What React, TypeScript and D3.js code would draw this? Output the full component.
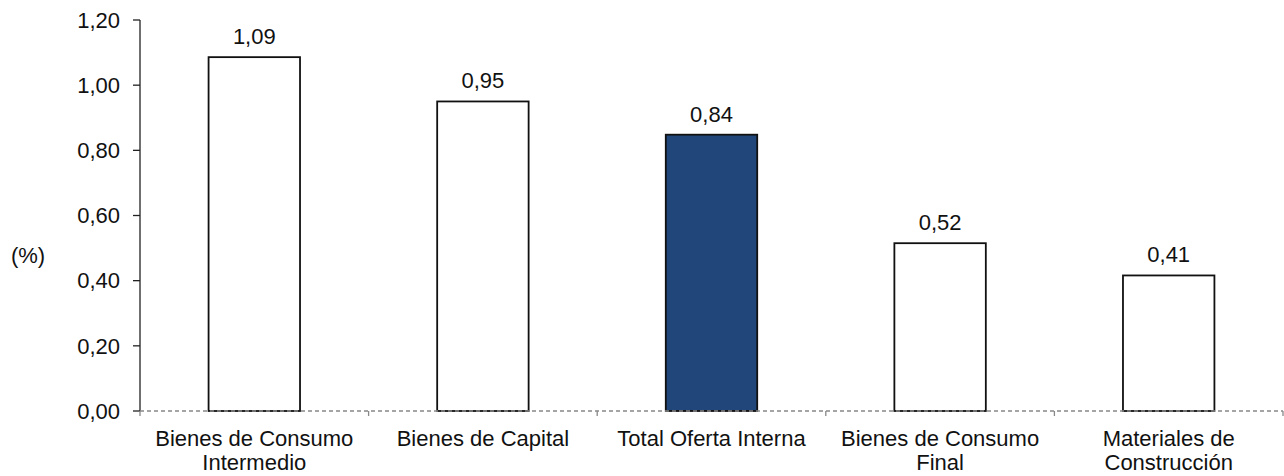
import { useEffect, useRef } from "react";
import * as d3 from "d3";

const categories = [
	["Bienes de Consumo", "Intermedio"],
	["Bienes de Capital"],
	["Total Oferta Interna"],
	["Bienes de Consumo", "Final"],
	["Materiales de", "Construcción"],
];
const values = [1.086, 0.95, 0.848, 0.515, 0.416];
const valueLabels = ["1,09", "0,95", "0,84", "0,52", "0,41"];
const highlighted = [false, false, true, false, false];
const yTicks = [0, 0.2, 0.4, 0.6, 0.8, 1.0, 1.2];

export default function App() {
	const svgRef = useRef<SVGSVGElement>(null);

	useEffect(() => {
		if (!svgRef.current) return;
		const width = 1284;
		const height = 476;
		const left = 140;
		const right = 1283;
		const top = 20;
		const bottom = 411;
		const font = "Liberation Sans, Arial, sans-serif";
		const fontSize = 22;

		const svg = d3.select(svgRef.current);
		svg.selectAll("*").remove();
		svg.attr("width", width).attr("height", height);

		const x = d3
			.scaleBand<number>()
			.domain(d3.range(categories.length))
			.range([left, right])
			.paddingInner(0.6)
			.paddingOuter(0.3);
		const y = d3.scaleLinear().domain([0, 1.2]).range([bottom, top]);

		// y axis
		svg
			.append("line")
			.attr("x1", left)
			.attr("x2", left)
			.attr("y1", y(1.2))
			.attr("y2", bottom)
			.attr("stroke", "#222")
			.attr("stroke-width", 1.3);
		const yt = svg.append("g").selectAll("g").data(yTicks).join("g");
		yt.append("line")
			.attr("x1", left - 7)
			.attr("x2", left)
			.attr("y1", (d) => y(d))
			.attr("y2", (d) => y(d))
			.attr("stroke", "#222")
			.attr("stroke-width", 1.3);
		yt.append("text")
			.attr("x", left - 20)
			.attr("y", (d) => y(d))
			.attr("dy", "0.35em")
			.attr("text-anchor", "end")
			.attr("font-family", font)
			.attr("font-size", fontSize)
			.attr("fill", "#111")
			.text((d) => d3.format(".2f")(d).replace(".", ","));

		svg
			.append("text")
			.attr("x", 28)
			.attr("y", 263)
			.attr("text-anchor", "middle")
			.attr("font-family", font)
			.attr("font-size", fontSize)
			.attr("fill", "#111")
			.text("(%)");

		// bars
		svg
			.append("g")
			.selectAll("rect")
			.data(values)
			.join("rect")
			.attr("x", (_, i) => x(i)!)
			.attr("y", (d) => y(d))
			.attr("width", x.bandwidth())
			.attr("height", (d) => bottom - y(d))
			.attr("fill", (_, i) => (highlighted[i] ? "#21477a" : "#fff"))
			.attr("stroke", "#111")
			.attr("stroke-width", 1.8);

		svg
			.append("g")
			.selectAll("text")
			.data(values)
			.join("text")
			.attr("x", (_, i) => x(i)! + x.bandwidth() / 2)
			.attr("y", (d) => y(d) - 13)
			.attr("text-anchor", "middle")
			.attr("font-family", font)
			.attr("font-size", fontSize)
			.attr("fill", "#111")
			.text((_, i) => valueLabels[i]);

		// x axis (dashed baseline)
		svg
			.append("line")
			.attr("x1", left)
			.attr("x2", right)
			.attr("y1", bottom)
			.attr("y2", bottom)
			.attr("stroke", "#888")
			.attr("stroke-width", 1.3)
			.attr("stroke-dasharray", "4,3");
		svg
			.append("g")
			.selectAll("line")
			.data(d3.range(categories.length + 1))
			.join("line")
			.attr("x1", (i) => left + (i * (right - left)) / categories.length)
			.attr("x2", (i) => left + (i * (right - left)) / categories.length)
			.attr("y1", bottom)
			.attr("y2", bottom + 5)
			.attr("stroke", "#888")
			.attr("stroke-width", 1.3);

		const labels = svg
			.append("g")
			.selectAll("text")
			.data(categories)
			.join("text")
			.attr("x", (_, i) => x(i)! + x.bandwidth() / 2)
			.attr("y", bottom + 35)
			.attr("text-anchor", "middle")
			.attr("font-family", font)
			.attr("font-size", fontSize)
			.attr("fill", "#111");
		labels
			.selectAll("tspan")
			.data((d) => d)
			.join("tspan")
			.attr("x", function () {
				return (this as any).parentNode.getAttribute("x");
			})
			.attr("dy", (_, j) => (j === 0 ? 0 : 24))
			.text((d) => d);
	}, []);

	return (
		<svg
			ref={svgRef}
			style={{ position: "absolute", left: 0, top: 0, background: "#fff" }}
		/>
	);
}
